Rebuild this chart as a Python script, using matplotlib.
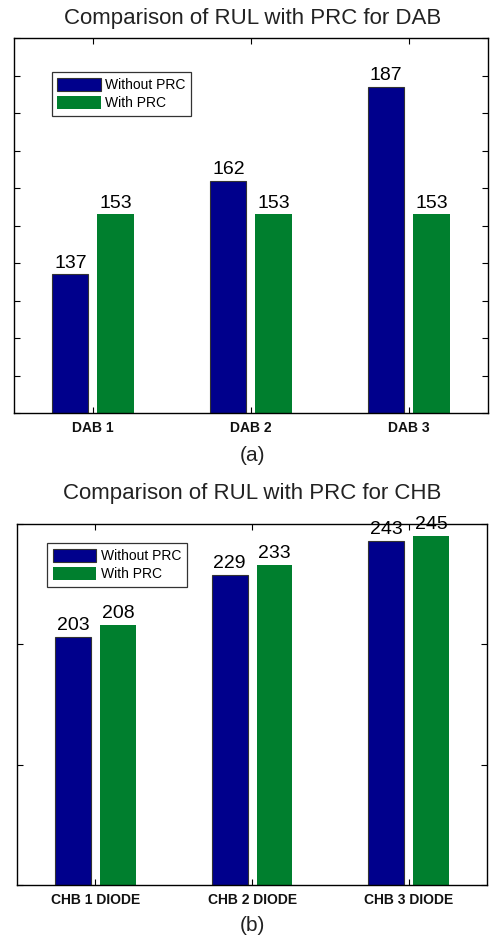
import numpy as np
import matplotlib.pyplot as plt

plt.rcParams['font.family'] = ['Liberation Sans', 'DejaVu Sans']

# data
dab_labels = ['DAB 1', 'DAB 2', 'DAB 3']
dab_without = [137, 162, 187]
dab_with = [153, 153, 153]

chb_labels = ['CHB 1 DIODE', 'CHB 2 DIODE', 'CHB 3 DIODE']
chb_without = [203, 229, 243]
chb_with = [208, 233, 245]

series_names = ['Without PRC', 'With PRC']
blue = '#00008c'
green = '#007f2e'


def bar_panel(ax, labels, without, with_, ylim, yticks, leg_anchor):
    x = np.arange(1, len(labels) + 1)
    off = 0.143
    w = 0.229
    ax.bar(x - off, np.array(without) - ylim[0], w, bottom=ylim[0],
           color=blue, edgecolor='#333333', linewidth=0.8, label=series_names[0])
    ax.bar(x + off, np.array(with_) - ylim[0], w, bottom=ylim[0],
           color=green, edgecolor='none', label=series_names[1])
    for xi, v in zip(x - off, without):
        ax.annotate(str(v), (xi, v), xytext=(0, 2), textcoords='offset points',
                    ha='center', va='bottom', fontsize=14)
    for xi, v in zip(x + off, with_):
        ax.annotate(str(v), (xi, v), xytext=(0, 2), textcoords='offset points',
                    ha='center', va='bottom', fontsize=14)
    ax.set_xlim(0.5, 3.5)
    ax.set_ylim(*ylim)
    ax.set_xticks(x)
    ax.set_xticklabels(labels, fontsize=10, fontweight='bold', color='#111111')
    ax.set_yticks(yticks)
    ax.set_yticklabels([])
    ax.tick_params(direction='in', top=True, right=True, length=4, width=0.8, pad=6)
    for s in ax.spines.values():
        s.set_linewidth(1.0)
    leg = ax.legend(loc='upper left', bbox_to_anchor=leg_anchor, fontsize=10,
                    frameon=True, fancybox=False, edgecolor='black',
                    handlelength=3.1, handleheight=1.1, labelspacing=0.25,
                    borderpad=0.4, handletextpad=0.35, borderaxespad=0)
    leg.get_frame().set_linewidth(0.9)


fig = plt.figure(figsize=(4.91, 9.41), dpi=100)

ax1 = fig.add_axes([0.0285, 0.561, 0.965, 0.3985])
bar_panel(ax1, dab_labels, dab_without, dab_with, (100, 200), np.arange(100, 201, 10),
          (0.080, 0.909))

ax2 = fig.add_axes([0.035, 0.0595, 0.957, 0.3835])
bar_panel(ax2, chb_labels, chb_without, chb_with, (100, 250), [100, 150, 200, 250],
          (0.064, 0.947))

fig.text(0.514, 0.980, 'Comparison of RUL with PRC for DAB', ha='center', va='center',
         fontsize=16, color='#222222')
fig.text(0.514, 0.516, '(a)', ha='center', va='center', fontsize=15, color='#222222')
fig.text(0.514, 0.476, 'Comparison of RUL with PRC for CHB', ha='center', va='center',
         fontsize=16, color='#222222')
fig.text(0.514, 0.017, '(b)', ha='center', va='center', fontsize=15, color='#222222')

fig.savefig('out.png', dpi=100)
